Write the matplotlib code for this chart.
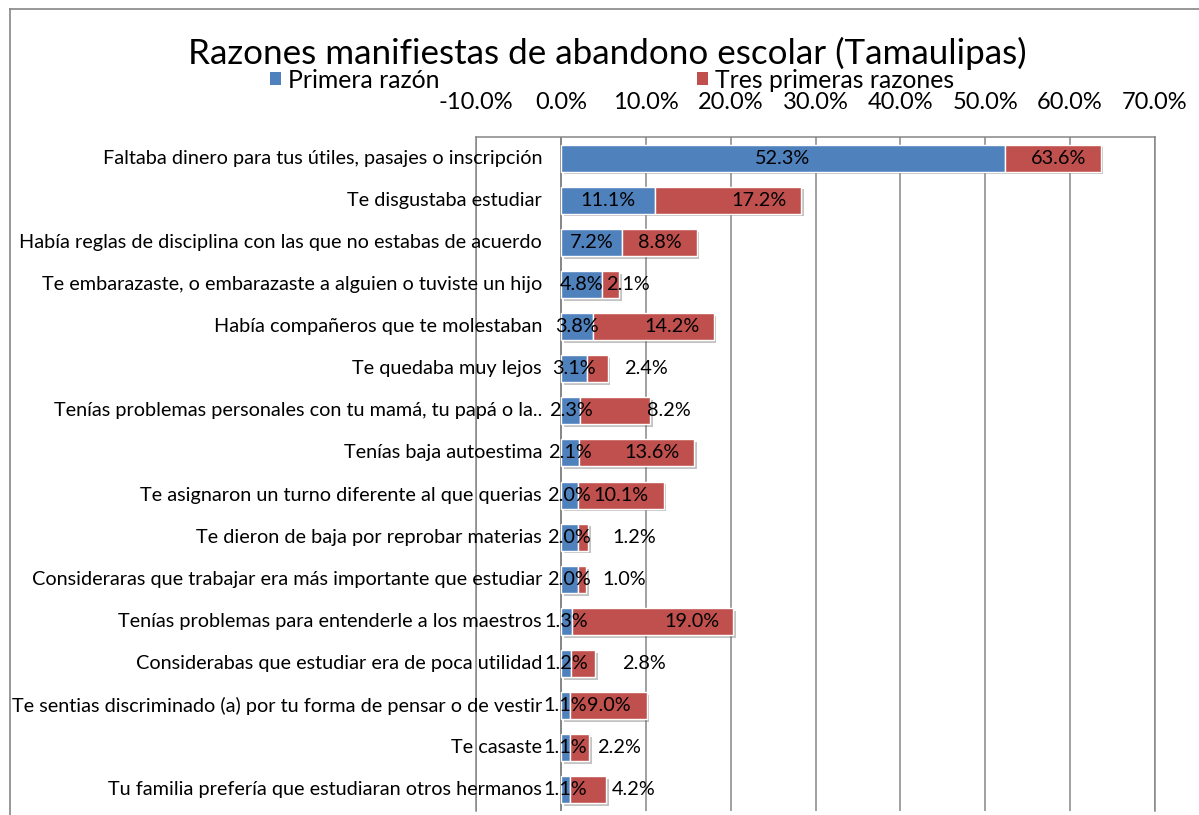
import numpy as np
from matplotlib import pyplot as plt
from matplotlib import patheffects as pe
from matplotlib.lines import Line2D
from matplotlib.patches import Patch

plt.rcParams['font.family'] = ['Lato', 'DejaVu Sans']

categorias = [
    'Faltaba dinero para tus útiles, pasajes o inscripción',
    'Te disgustaba estudiar',
    'Había reglas de disciplina con las que no estabas de acuerdo',
    'Te embarazaste, o embarazaste a alguien o tuviste un hijo',
    'Había compañeros que te molestaban',
    'Te quedaba muy lejos',
    'Tenías problemas personales con tu mamá, tu papá o la..',
    'Tenías baja autoestima',
    'Te asignaron un turno diferente al que querias',
    'Te dieron de baja por reprobar materias',
    'Consideraras que trabajar era más importante que estudiar',
    'Tenías problemas para entenderle a los maestros',
    'Considerabas que estudiar era de poca utilidad',
    'Te sentias discriminado (a) por tu forma de pensar o de vestir',
    'Te casaste',
    'Tu familia prefería que estudiaran otros hermanos',
]
primera = [52.3, 11.1, 7.2, 4.8, 3.8, 3.1, 2.3, 2.1, 2.0, 2.0, 2.0, 1.3, 1.2, 1.1, 1.1, 1.1]
tres = [63.6, 17.2, 8.8, 2.1, 14.2, 2.4, 8.2, 13.6, 10.1, 1.2, 1.0, 19.0, 2.8, 9.0, 2.2, 4.2]
# red segment as drawn (first row segment ends at 63.6 in the picture)
tres_seg = [11.3, 17.2, 8.8, 2.1, 14.2, 2.4, 8.2, 13.6, 10.1, 1.2, 1.0, 19.0, 2.8, 9.0, 2.2, 4.2]
# horizontal shift of the red labels from segment centre (in % units)
lab_shift = [0.7, 3.6, 0, 2.1, 2.2, 5.7, 6.3, 1.8, 0, 6.0, 4.9, 4.6, 7.2, 0, 4.6, 5.4]
ticks = [-10, 0, 10, 20, 30, 40, 50, 60, 70]

azul = '#4F81BD'
rojo = '#C0504D'
gris = '#868686'

fig = plt.figure(figsize=(11.99, 8.15), dpi=100)
ax = fig.add_axes([476/1199, 1 - 811/815, (1155-476)/1199, (811-137)/815])

y = np.arange(len(categorias))
sombra = [pe.SimplePatchShadow(offset=(2, -2), alpha=0.35, shadow_rgbFace='#555555'), pe.Normal()]
b1 = ax.barh(y, primera, height=0.64, color=azul, edgecolor='white', linewidth=1, zorder=3)
b2 = ax.barh(y, tres_seg, left=primera, height=0.64, color=rojo, edgecolor='white', linewidth=1, zorder=3)
for b in list(b1) + list(b2):
    b.set_path_effects(sombra)

fs = 14.3
for i in range(len(categorias)):
    ax.text(primera[i]/2, i, f'{primera[i]:.1f}%', ha='center', va='center', fontsize=fs, zorder=5)
    xc = primera[i] + tres_seg[i]/2 + lab_shift[i]
    ax.text(xc, i, f'{tres[i]:.1f}%', ha='center', va='center', fontsize=fs, zorder=5)
    ax.annotate(categorias[i], (0, i), xytext=(-13.5, 0), textcoords='offset points',
                ha='right', va='center', fontsize=fs, zorder=5, annotation_clip=False)

ax.set_xlim(-10, 70)
ax.set_ylim(len(categorias) - 0.5, -0.5)
ax.set_xticks(ticks)
ax.set_xticklabels([f'{t:.1f}%' for t in ticks])
ax.xaxis.tick_top()
ax.tick_params(axis='x', length=0, pad=17, labelsize=17)
ax.set_yticks([])
ax.grid(axis='x', color=gris, linewidth=1.1, zorder=0)
ax.set_axisbelow(True)
ax.axvline(0, color=gris, linewidth=1.3, zorder=2)
for s in ['left', 'top', 'right']:
    ax.spines[s].set_color(gris)
    ax.spines[s].set_linewidth(1.1)
ax.spines['bottom'].set_visible(False)

fig.text(607/1199, 1 - 53/815, 'Razones manifiestas de abandono escolar (Tamaulipas)',
         ha='center', va='center', fontsize=25.2)
handles = [Patch(facecolor=azul), Patch(facecolor=rojo)]
fig.legend(handles, ['Primera razón', 'Tres primeras razones'], loc='center',
           bbox_to_anchor=(612/1199, 1 - 80/815), ncol=2, frameon=False, fontsize=17.8,
           handlelength=0.45, handleheight=0.45, handletextpad=0.3, columnspacing=10.4,
           borderpad=0)

# outer chart frame
fig.add_artist(Line2D([10/1199, 10/1199], [0, 1 - 9/815], color=gris, linewidth=1.2))
fig.add_artist(Line2D([10/1199, 1], [1 - 9/815, 1 - 9/815], color=gris, linewidth=1.2))

fig.savefig('out.png', dpi=100)
